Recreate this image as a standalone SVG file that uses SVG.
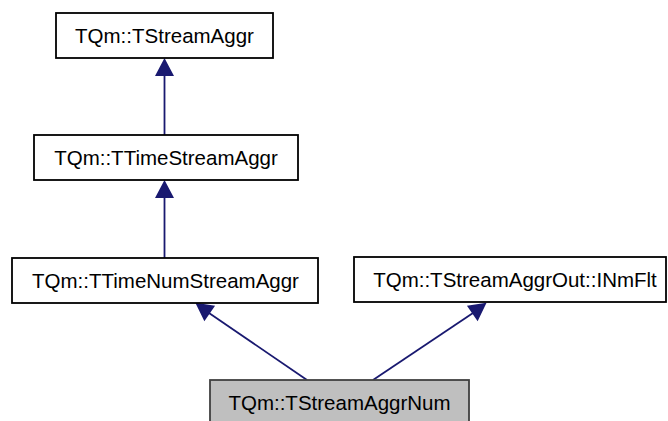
<svg xmlns="http://www.w3.org/2000/svg" width="668" height="421" viewBox="0 0 668 421">
  <defs>
    <style>
      .node rect { fill: #ffffff; stroke: #000000; stroke-width: 1.8; }
      .node.current rect { fill: #bfbfbf; stroke: #404040; }
      .node text { font-family: "Liberation Sans", Arial, sans-serif; font-size: 20.5px; fill: #000000; text-anchor: middle; }
      .edge { stroke: #191970; stroke-width: 1.8; fill: none; }
      .head { fill: #191970; stroke: #191970; stroke-width: 1.8; }
    </style>
  </defs>
  <rect width="668" height="421" fill="#ffffff"/>

  <g id="connectors">
    <!-- TTimeStreamAggr -> TStreamAggr -->
    <line class="edge" x1="164.5" y1="135" x2="164.5" y2="75"/>
    <polygon class="head" points="164.5,60 156.5,75 172.5,75"/>
    <!-- TTimeNumStreamAggr -> TTimeStreamAggr -->
    <line class="edge" x1="164.5" y1="258" x2="164.5" y2="197"/>
    <polygon class="head" points="164.5,182 156.5,197 172.5,197"/>
    <!-- TStreamAggrNum -> TTimeNumStreamAggr -->
    <line class="edge" x1="307" y1="380" x2="209" y2="313"/>
    <polygon class="head" points="197,304 204.5,319.5 213.5,306.5"/>
    <!-- TStreamAggrNum -> TStreamAggrOut::INmFlt -->
    <line class="edge" x1="373" y1="380" x2="473" y2="313"/>
    <polygon class="head" points="485,304 468.5,306.5 477.5,319.5"/>
  </g>

  <g id="TStreamAggr" class="node">
    <rect x="56" y="13" width="217" height="45"/>
    <text x="164.5" y="43">TQm::TStreamAggr</text>
  </g>

  <g id="TTimeStreamAggr" class="node">
    <rect x="34" y="135" width="264" height="45"/>
    <text x="166" y="165">TQm::TTimeStreamAggr</text>
  </g>

  <g id="TTimeNumStreamAggr" class="node">
    <rect x="12" y="258" width="306" height="45"/>
    <text x="165.5" y="288">TQm::TTimeNumStreamAggr</text>
  </g>

  <g id="INmFlt" class="node">
    <rect x="354" y="257" width="312" height="45"/>
    <text x="515" y="287">TQm::TStreamAggrOut::INmFlt</text>
  </g>

  <g id="TStreamAggrNum" class="node current">
    <rect x="210" y="380" width="259" height="45"/>
    <text x="339.5" y="410">TQm::TStreamAggrNum</text>
  </g>
</svg>
